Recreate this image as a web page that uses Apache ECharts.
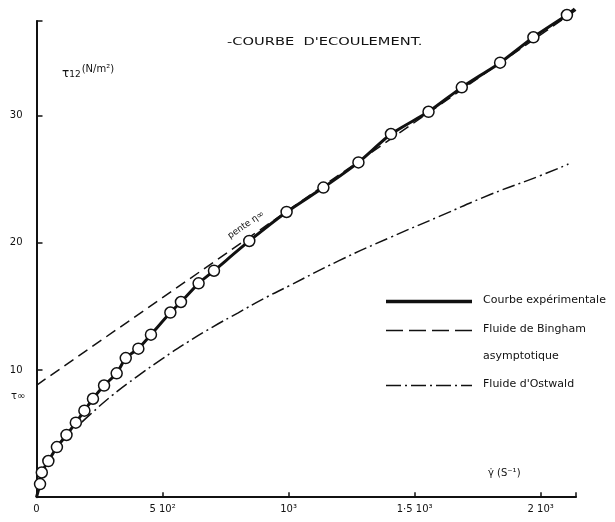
<!DOCTYPE html>
<html>
<head>
<meta charset="utf-8">
<script src="https://cdn.jsdelivr.net/npm/echarts@6/dist/echarts.min.js"></script>
<style>
html,body{margin:0;padding:0;background:#fff;}
#chart{width:615px;height:522px;}
</style>
</head>
<body>
<div id="chart"></div>
<script>
// ---- data ----
const xTicks = [0, 500, 1000, 1500, 2000];
const xTickLabels = ['0', '5 10²', '10³', '1·5 10³', '2 10³'];
const yTicks = [10, 20, 30];

// experimental points (shear rate s^-1, stress N/m2)
const expShear  = [14, 21, 47, 81, 119, 156, 190, 224, 268, 318, 354, 404, 454, 531, 573, 643, 704, 844, 992, 1138, 1277, 1406, 1555, 1687, 1839, 1971, 2104];
const expStress = [1.03, 1.94, 2.84, 3.94, 4.89, 5.86, 6.80, 7.74, 8.78, 9.74, 10.94, 11.68, 12.78, 14.52, 15.35, 16.82, 17.81, 20.15, 22.43, 24.35, 26.33, 28.56, 30.31, 32.23, 34.17, 36.17, 37.92];
// extra ends of the experimental curve
const expCurveStart = [0, 0];
const expCurveEnd = [2135, 38.4];

// Bingham asymptote
const binghamShear  = [0, 2140];
const binghamStress = [8.8, 38.3];

// Ostwald fluid curve
const ostwaldShear  = [180, 210, 300, 400, 500, 600, 700, 800, 900, 1000, 1200, 1400, 1600, 1800, 2000, 2110];
const ostwaldStress = [5.9, 6.45, 8.0, 9.5, 10.9, 12.2, 13.4, 14.5, 15.6, 16.6, 18.6, 20.4, 22.1, 23.8, 25.3, 26.2];

// legend entries
const legendNames = ['Courbe expérimentale', 'Fluide de Bingham', 'asymptotique', "Fluide d'Ostwald"];

const zip = (a, b) => a.map((v, i) => [v, b[i]]);
const expPts = zip(expShear, expStress);
const expCurve = [expCurveStart].concat(expPts, [expCurveEnd]);

const FONT = 'DejaVu Sans';
const INK = '#111';

const chart = echarts.init(document.getElementById('chart'), null, {renderer: 'canvas'});

const xLabelMap = {};
xTicks.forEach((t, i) => { xLabelMap[t] = xTickLabels[i]; });

const option = {
  backgroundColor: '#fff',
  animation: false,
  grid: {left: 36.5, right: 39, top: 21, bottom: 24.85, containLabel: false},
  xAxis: {
    type: 'value', min: 0, max: 2140, interval: 500,
    axisLine: {show: true, lineStyle: {color: INK, width: 2}},
    axisTick: {show: true, inside: true, length: 5, lineStyle: {color: INK, width: 1.5}},
    splitLine: {show: false},
    axisLabel: {
      margin: 7, color: INK, fontFamily: FONT, fontSize: 10,
      formatter: v => (xLabelMap[v] !== undefined ? xLabelMap[v] : '')
    }
  },
  yAxis: {
    type: 'value', min: 0, max: 37.45, interval: 10,
    axisLine: {show: true, lineStyle: {color: INK, width: 2}},
    axisTick: {show: true, inside: true, length: 6, lineStyle: {color: INK, width: 1.5}},
    splitLine: {show: false},
    axisLabel: {
      margin: 14, color: INK, fontFamily: FONT, fontSize: 10, showMinLabel: false,
      formatter: v => (yTicks.indexOf(v) >= 0 ? String(v) : '')
    }
  },
  series: [
    {
      name: legendNames[3], type: 'line', data: zip(ostwaldShear, ostwaldStress),
      smooth: true, showSymbol: false, clip: false, z: 2,
      lineStyle: {color: INK, width: 1.5, type: [13, 4, 2, 4]}
    },
    {
      name: legendNames[1], type: 'line', data: zip(binghamShear, binghamStress),
      showSymbol: false, clip: false, z: 2,
      lineStyle: {color: INK, width: 1.5, type: [11, 6]}
    },
    {
      name: legendNames[0], type: 'line', data: expCurve,
      smooth: 0.2, showSymbol: false, clip: false, z: 3,
      lineStyle: {color: INK, width: 3}
    },
    {
      name: 'points', type: 'scatter', data: expPts, clip: false, z: 4,
      symbol: 'circle', symbolSize: 11,
      itemStyle: {color: '#fff', borderColor: INK, borderWidth: 1.5, opacity: 1}
    }
  ],
  graphic: [
    // title
    {type: 'text', left: 227, top: 37, scaleX: 1.33, style: {text: "-COURBE  D'ECOULEMENT.", fill: INK, font: '11px "DejaVu Sans"'}},
    // y axis name
    {type: 'text', left: 62, top: 64, style: {
      text: '{t|τ}{s|12}{u|(N/m²)}', fill: INK,
      rich: {t: {fontSize: 12, fontFamily: FONT, verticalAlign: 'bottom'}, s: {fontSize: 9, fontFamily: FONT, padding: [8, 0, 0, 0]}, u: {fontSize: 10, fontFamily: FONT, padding: [0, 0, 4, 1]}}
    }},
    // x axis name
    {type: 'text', left: 488, top: 468, style: {text: 'γ̇ (S⁻¹)', fill: INK, font: '10px "DejaVu Sans"'}},
    // tau infinity
    {type: 'text', left: 11, top: 391, style: {text: 'τ∞', fill: INK, font: '10px "DejaVu Sans"'}},
    // pente eta infinity
    {type: 'text', x: 246, y: 225, rotation: 0.6, style: {text: 'pente η∞', fill: INK, font: '9px "DejaVu Sans"', align: 'center', verticalAlign: 'middle'}},
    // legend
    {type: 'line', shape: {x1: 386, y1: 301.5, x2: 472, y2: 301.5}, style: {stroke: INK, lineWidth: 3.5}},
    {type: 'line', shape: {x1: 386, y1: 330.5, x2: 472, y2: 330.5}, style: {stroke: INK, lineWidth: 1.5, lineDash: [17, 6]}},
    {type: 'line', shape: {x1: 386, y1: 385.5, x2: 472, y2: 385.5}, style: {stroke: INK, lineWidth: 1.5, lineDash: [15, 4, 2, 4]}},
    {type: 'text', left: 483, top: 295, scaleX: 1.1, style: {text: legendNames[0], fill: INK, font: '10px "DejaVu Sans"'}},
    {type: 'text', left: 483, top: 324, scaleX: 1.1, style: {text: legendNames[1], fill: INK, font: '10px "DejaVu Sans"'}},
    {type: 'text', left: 483, top: 351, scaleX: 1.1, style: {text: legendNames[2], fill: INK, font: '10px "DejaVu Sans"'}},
    {type: 'text', left: 483, top: 379, scaleX: 1.1, style: {text: legendNames[3], fill: INK, font: '10px "DejaVu Sans"'}}
  ]
};
chart.setOption(option);
</script>
</body>
</html>
